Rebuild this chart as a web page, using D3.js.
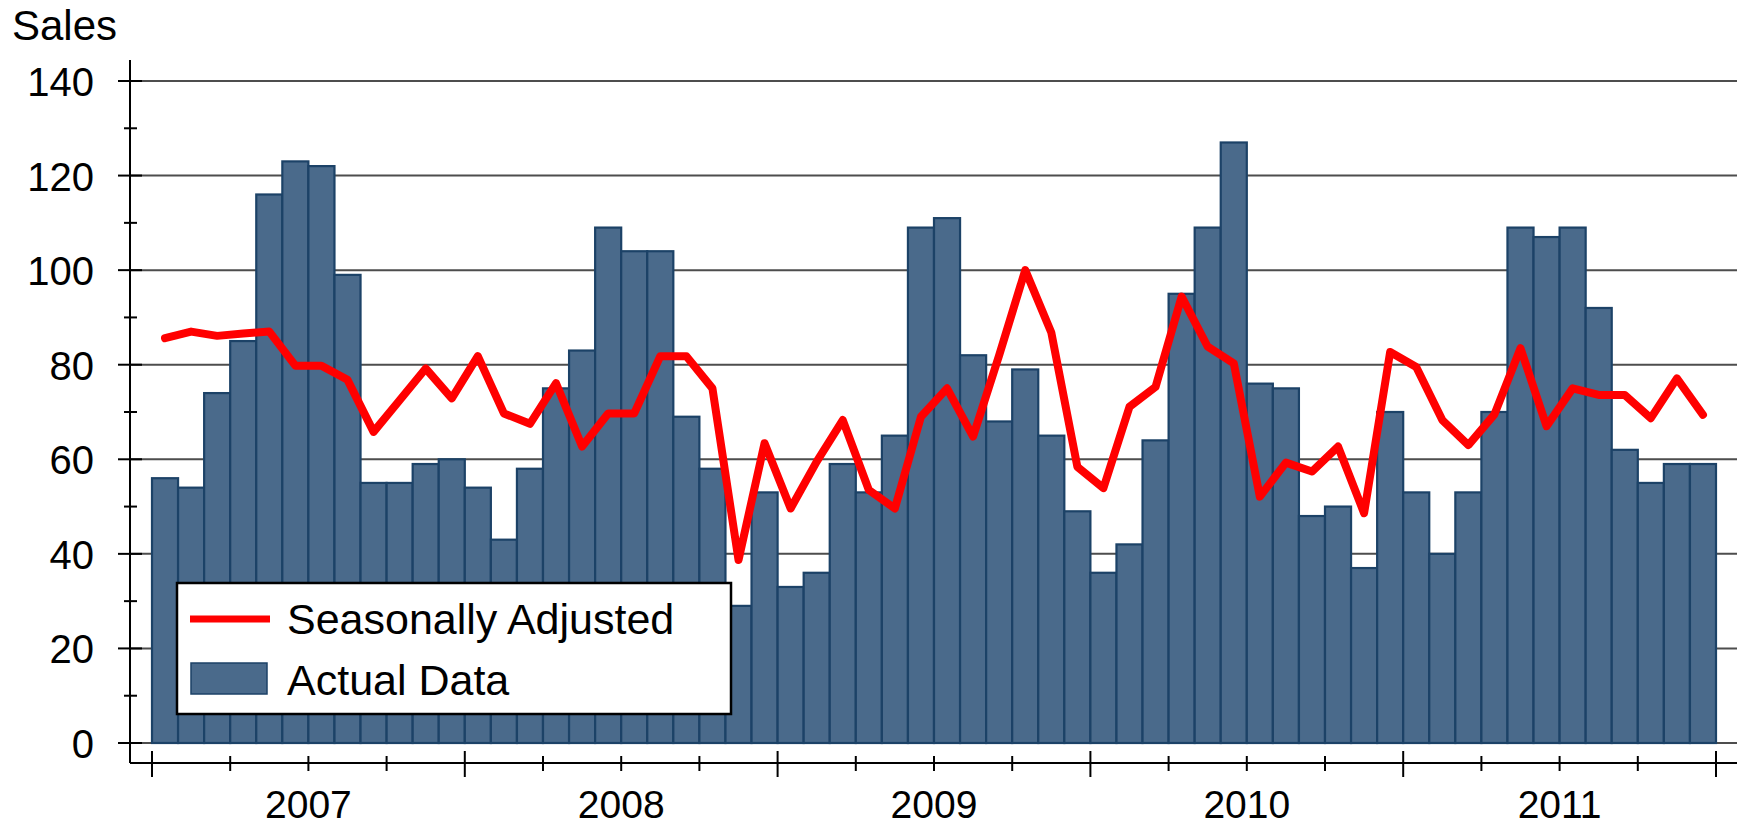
<!DOCTYPE html>
<html>
<head>
<meta charset="utf-8">
<script src="https://cdn.jsdelivr.net/npm/d3@7"></script>
<style>
    body { margin: 0; background: #ffffff; }
    text { font-family: "Liberation Sans", Arial, sans-serif; fill: #000000; }
</style>
</head>
<body>
<svg id="chart" width="1745" height="827"></svg>
<script>
// monthly sales, Jan 2007 - Dec 2011
let actualData = [
    56, 54, 74, 85, 116, 123, 122, 99, 55, 55, 59, 60,
    54, 43, 58, 75, 83, 109, 104, 104, 69, 58, 29, 53,
    33, 36, 59, 53, 65, 109, 111, 82, 68, 79, 65, 49,
    36, 42, 64, 95, 109, 127, 76, 75, 48, 50, 37, 70,
    53, 40, 53, 70, 109, 107, 109, 92, 62, 55, 59, 59
]
let seasonalData = [
    85.6, 87, 86.1, 86.6, 87, 79.8, 79.8, 76.8, 65.8, 72.5, 79.2, 72.9,
    81.8, 69.7, 67.5, 76.1, 62.7, 69.7, 69.7, 81.8, 81.8, 75, 38.7, 63.4,
    49.6, 59.5, 68.3, 53.5, 49.6, 69, 75, 64.8, 82, 100, 86.8, 58.4,
    53.9, 71.1, 75.3, 94.4, 83.8, 80.3, 52.1, 59.3, 57.4, 62.7, 48.6, 82.7,
    79.5, 68.3, 63, 69.5, 83.5, 67, 75, 73.6, 73.6, 68.7, 77.1, 69.4
]
let years = ["2007", "2008", "2009", "2010", "2011"]
let yMajorTicks = [0, 20, 40, 60, 80, 100, 120, 140]
let yMinorTicks = [10, 30, 50, 70, 90, 110, 130]
let legendLabels = ["Seasonally Adjusted", "Actual Data"]

let svg = d3.select('#chart')

let barColor = "#4a6a8b"
let barEdge = "#1c4267"
let lineColor = "#ff0000"

// scales
let x = d3.scaleBand()
    .domain(d3.range(actualData.length))
    .range([152, 1716])
    .paddingInner(0)
    .paddingOuter(0)
let xMonth = d3.scaleLinear()
    .domain([0, actualData.length])
    .range([152, 1716])
let y = d3.scaleLinear()
    .domain([0, 140])
    .range([743, 81])

let axisX = 130
let axisY = 763
let rightEdge = 1737

// gridlines
svg.append("g")
    .selectAll("line")
    .data(yMajorTicks)
    .join("line")
    .attr("x1", axisX)
    .attr("x2", rightEdge)
    .attr("y1", d => y(d))
    .attr("y2", d => y(d))
    .attr("stroke", "#4d4d4d")
    .attr("stroke-width", 2)

// bars
svg.append("g")
    .selectAll("rect")
    .data(actualData)
    .join("rect")
    .attr("x", (d, i) => x(i))
    .attr("y", d => y(d))
    .attr("width", x.bandwidth())
    .attr("height", d => y(0) - y(d))
    .attr("fill", barColor)
    .attr("stroke", barEdge)
    .attr("stroke-width", 2.2)

// seasonally adjusted line
let line = d3.line()
    .x((d, i) => x(i) + x.bandwidth() / 2)
    .y(d => y(d))
svg.append("path")
    .datum(seasonalData)
    .attr("d", line)
    .attr("fill", "none")
    .attr("stroke", lineColor)
    .attr("stroke-width", 8)
    .attr("stroke-linejoin", "round")
    .attr("stroke-linecap", "round")

// y axis
let yAxis = svg.append("g")
yAxis.append("line")
    .attr("x1", axisX).attr("x2", axisX)
    .attr("y1", 60).attr("y2", axisY)
    .attr("stroke", "#000").attr("stroke-width", 2)
yAxis.selectAll(".major")
    .data(yMajorTicks)
    .join("line")
    .attr("class", "major")
    .attr("x1", 118).attr("x2", 142)
    .attr("y1", d => y(d)).attr("y2", d => y(d))
    .attr("stroke", "#000").attr("stroke-width", 2)
yAxis.selectAll(".minor")
    .data(yMinorTicks)
    .join("line")
    .attr("class", "minor")
    .attr("x1", 124).attr("x2", 137)
    .attr("y1", d => y(d)).attr("y2", d => y(d))
    .attr("stroke", "#000").attr("stroke-width", 2)
yAxis.selectAll("text")
    .data(yMajorTicks)
    .join("text")
    .attr("x", 94)
    .attr("y", d => y(d) + 15)
    .attr("text-anchor", "end")
    .style("font-size", "40px")
    .text(d => d)

// x axis
let xAxis = svg.append("g")
xAxis.append("line")
    .attr("x1", axisX).attr("x2", rightEdge)
    .attr("y1", axisY).attr("y2", axisY)
    .attr("stroke", "#000").attr("stroke-width", 2)
let monthTicks = d3.range(0, actualData.length + 1, 3)
xAxis.selectAll(".tick")
    .data(monthTicks)
    .join("line")
    .attr("class", "tick")
    .attr("x1", d => xMonth(d)).attr("x2", d => xMonth(d))
    .attr("y1", d => d % 12 === 0 ? axisY - 12 : axisY - 7)
    .attr("y2", d => d % 12 === 0 ? axisY + 14 : axisY + 8)
    .attr("stroke", "#000").attr("stroke-width", 2)
xAxis.selectAll("text")
    .data(years)
    .join("text")
    .attr("x", (d, i) => xMonth(i * 12 + 6))
    .attr("y", 818)
    .attr("text-anchor", "middle")
    .style("font-size", "39px")
    .text(d => d)

// axis title
svg.append("text")
    .attr("x", 12)
    .attr("y", 40)
    .style("font-size", "42px")
    .text("Sales")

// legend
let legend = svg.append("g")
legend.append("rect")
    .attr("x", 177).attr("y", 583)
    .attr("width", 554).attr("height", 131)
    .attr("fill", "#ffffff")
    .attr("stroke", "#000").attr("stroke-width", 2.5)
legend.append("line")
    .attr("x1", 190).attr("x2", 270)
    .attr("y1", 619).attr("y2", 619)
    .attr("stroke", lineColor).attr("stroke-width", 7)
legend.append("rect")
    .attr("x", 191).attr("y", 663)
    .attr("width", 76).attr("height", 31)
    .attr("fill", barColor)
    .attr("stroke", barEdge).attr("stroke-width", 1.5)
legend.selectAll("text")
    .data(legendLabels)
    .join("text")
    .attr("x", 287)
    .attr("y", (d, i) => 634 + i * 61)
    .style("font-size", "43px")
    .text(d => d)
</script>
</body>
</html>
